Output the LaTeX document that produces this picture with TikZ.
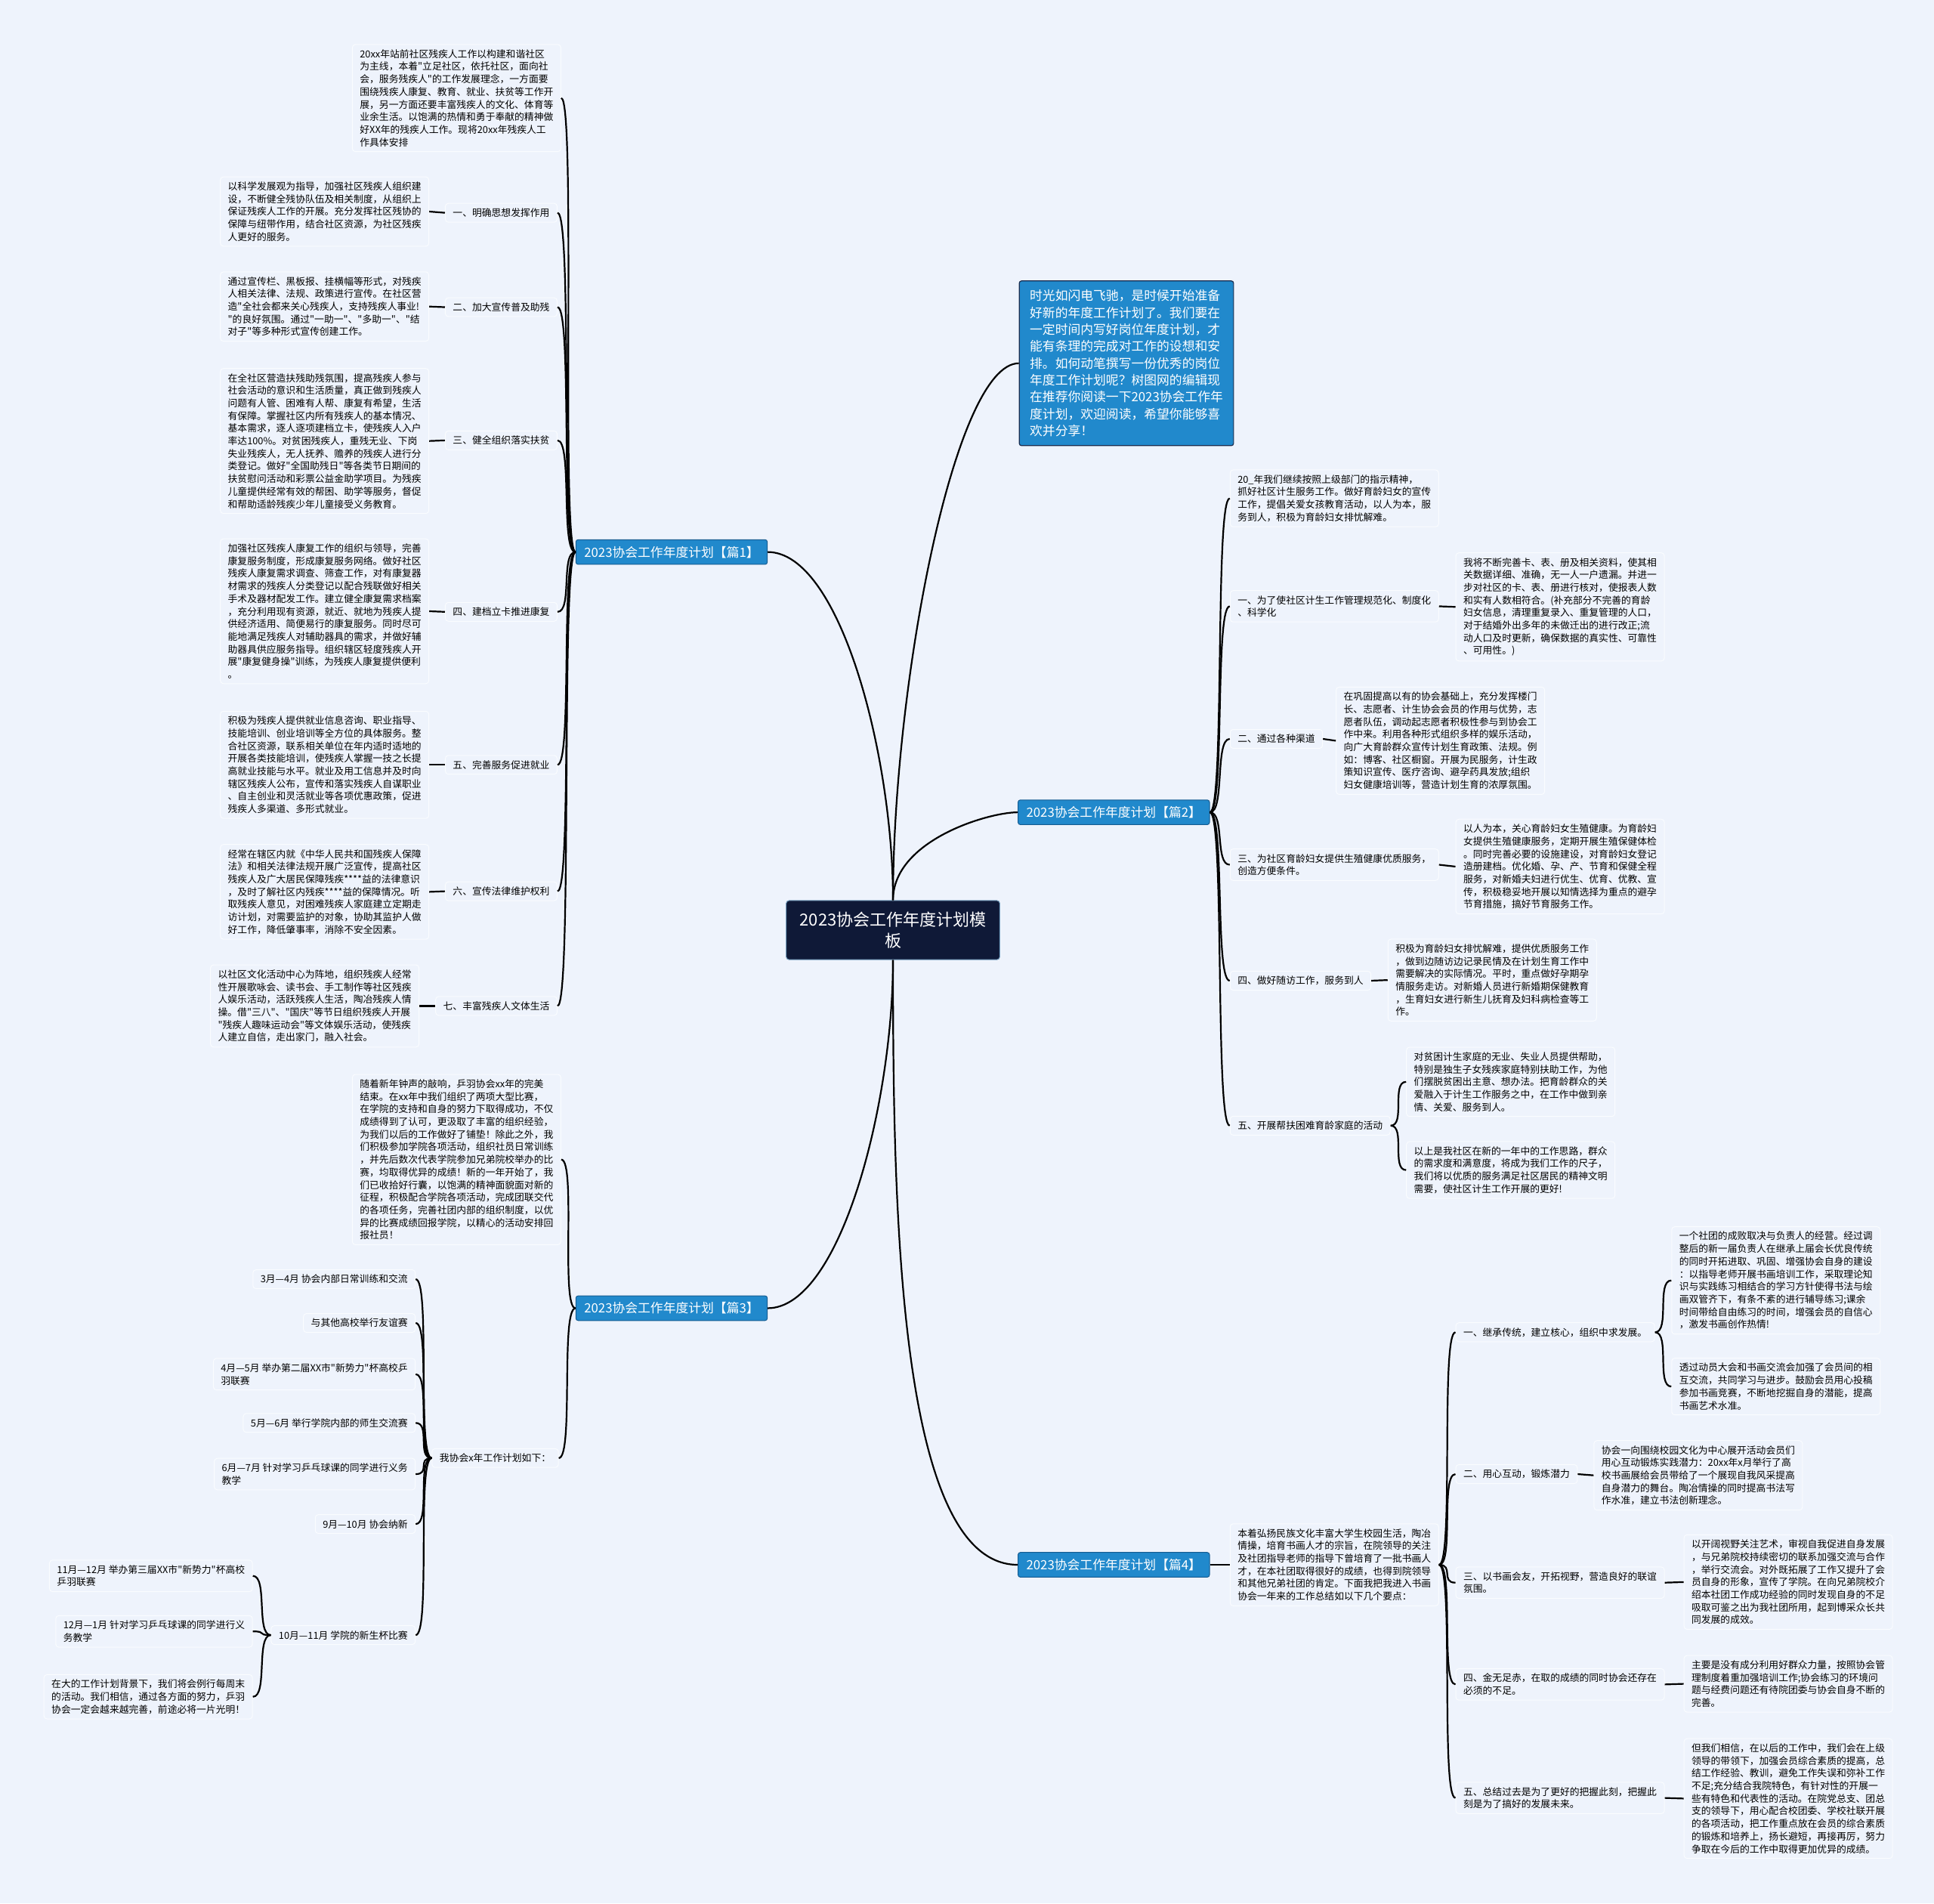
\documentclass[tikz,border=0pt]{standalone}
\usepackage{fontspec}
\newfontfamily\cjkfont{Noto Sans CJK SC}
\definecolor{bgblue}{RGB}{238,243,252}
\definecolor{boxline}{RGB}{250,252,255}
\definecolor{branchblue}{RGB}{33,137,204}
\definecolor{branchline}{RGB}{22,92,145}
\definecolor{introline}{RGB}{25,45,80}
\definecolor{rootfill}{RGB}{15,25,55}
\begin{document}
\begin{tikzpicture}[x=1.6327pt,y=1.6327pt,
    leaf/.style={draw=boxline, fill=bgblue, line width=1pt, rounded corners=4pt,
      inner xsep=10pt, inner ysep=6.5pt, align=left,
      font=\cjkfont\fontsize{12.8pt}{16.7pt}\selectfont},
    branch/.style={draw=branchline, fill=branchblue, text=white, line width=1pt,
      rounded corners=3pt, inner xsep=11pt, inner ysep=8.5pt,
      font=\cjkfont\fontsize{16.8pt}{20pt}\selectfont},
    intro/.style={draw=introline, fill=branchblue, text=white, line width=1.2pt,
      rounded corners=3pt, inner xsep=14pt, inner ysep=12pt, align=left,
      font=\cjkfont\fontsize{16.8pt}{22.3pt}\selectfont},
    root/.style={draw=branchline!60!white, fill=rootfill, text=white, line width=1pt,
      rounded corners=4pt, inner xsep=18pt, inner ysep=15pt, align=center,
      font=\cjkfont\fontsize{22pt}{28pt}\selectfont},
    link/.style={line width=2.2pt},
    toleft/.style={out=180, in=0, out distance=20pt, in distance=20pt},
    toright/.style={out=0, in=180, out distance=20pt, in distance=20pt}]

  % page
  \fill[bgblue] (0,0) rectangle (1568,-1543);
  \useasboundingbox (0,0) rectangle (1568,-1543);

  % centre and main branches
  \node[root] (ctr) at (724,-754) {2023协会工作年度计划模\\板};
  \node[intro, anchor=west] (intro) at (826,-294.5) {时光如闪电飞驰，是时候开始准备\\好新的年度工作计划了。我们要在\\一定时间内写好岗位年度计划，才\\能有条理的完成对工作的设想和安\\排。如何动笔撰写一份优秀的岗位\\年度工作计划呢？树图网的编辑现\\在推荐你阅读一下2023协会工作年\\度计划，欢迎阅读，希望你能够喜\\欢并分享！};
  \node[branch] (p1) at (544.5,-447.5) {2023协会工作年度计划【篇1】};
  \node[branch] (p3) at (544.5,-1060.5) {2023协会工作年度计划【篇3】};
  \node[branch] (p2) at (903,-658.5) {2023协会工作年度计划【篇2】};
  \node[branch] (p4) at (903,-1268.5) {2023协会工作年度计划【篇4】};

  \draw[link] (ctr.north) to[out=90, in=0, in looseness=0.5] (p1.east);
  \draw[link] (ctr.north) to[out=90, in=180, in looseness=0.3] (intro.west);
  \draw[link] (ctr.north) to[out=90, in=180, in looseness=0.5] (p2.west);
  \draw[link] (ctr.south) to[out=-90, in=0, in looseness=0.5] (p3.east);
  \draw[link] (ctr.south) to[out=-90, in=180, in looseness=0.5] (p4.west);

  % 篇1
  \node[leaf, anchor=east] (c0) at (455,-79.5) {20xx年站前社区残疾人工作以构建和谐社区\\为主线，本着"立足社区，依托社区，面向社\\会，服务残疾人"的工作发展理念，一方面要\\围绕残疾人康复、教育、就业、扶贫等工作开\\展，另一方面还要丰富残疾人的文化、体育等\\业余生活。以饱满的热情和勇于奉献的精神做\\好XX年的残疾人工作。现将20xx年残疾人工\\作具体安排};
  \node[leaf, anchor=east] (c1) at (452,-172.5) {一、明确思想发挥作用};
  \node[leaf, anchor=east] (c1a) at (348,-171.5) {以科学发展观为指导，加强社区残疾人组织建\\设，不断健全残协队伍及相关制度，从组织上\\保证残疾人工作的开展。充分发挥社区残协的\\保障与纽带作用，结合社区资源，为社区残疾\\人更好的服务。};
  \node[leaf, anchor=east] (c2) at (452,-249) {二、加大宣传普及助残};
  \node[leaf, anchor=east] (c2a) at (348,-248.5) {通过宣传栏、黑板报、挂横幅等形式，对残疾\\人相关法律、法规、政策进行宣传。在社区营\\造"全社会都来关心残疾人，支持残疾人事业!\\"的良好氛围。通过"一助一"、"多助一"、"结\\对子"等多种形式宣传创建工作。};
  \node[leaf, anchor=east] (c3) at (452,-357) {三、健全组织落实扶贫};
  \node[leaf, anchor=east] (c3a) at (348,-357.5) {在全社区营造扶残助残氛围，提高残疾人参与\\社会活动的意识和生活质量，真正做到残疾人\\问题有人管、困难有人帮、康复有希望，生活\\有保障。掌握社区内所有残疾人的基本情况、\\基本需求，逐人逐项建档立卡，使残疾人入户\\率达100\%。对贫困残疾人，重残无业、下岗\\失业残疾人，无人抚养、赡养的残疾人进行分\\类登记。做好"全国助残日"等各类节日期间的\\扶贫慰问活动和彩票公益金助学项目。为残疾\\儿童提供经常有效的帮困、助学等服务，督促\\和帮助适龄残疾少年儿童接受义务教育。};
  \node[leaf, anchor=east] (c4) at (452,-496) {四、建档立卡推进康复};
  \node[leaf, anchor=east] (c4a) at (348,-495.5) {加强社区残疾人康复工作的组织与领导，完善\\康复服务制度，形成康复服务网络。做好社区\\残疾人康复需求调查、筛查工作，对有康复器\\材需求的残疾人分类登记以配合残联做好相关\\手术及器材配发工作。建立健全康复需求档案\\，充分利用现有资源，就近、就地为残疾人提\\供经济适用、简便易行的康复服务。同时尽可\\能地满足残疾人对辅助器具的需求，并做好辅\\助器具供应服务指导。组织辖区轻度残疾人开\\展"康复健身操"训练，为残疾人康复提供便利\\。};
  \node[leaf, anchor=east] (c5) at (452,-620) {五、完善服务促进就业};
  \node[leaf, anchor=east] (c5a) at (348,-620) {积极为残疾人提供就业信息咨询、职业指导、\\技能培训、创业培训等全方位的具体服务。整\\合社区资源，联系相关单位在年内适时适地的\\开展各类技能培训，使残疾人掌握一技之长提\\高就业技能与水平。就业及用工信息并及时向\\辖区残疾人公布，宣传和落实残疾人自谋职业\\、自主创业和灵活就业等各项优惠政策，促进\\残疾人多渠道、多形式就业。};
  \node[leaf, anchor=east] (c6) at (452,-722.5) {六、宣传法律维护权利};
  \node[leaf, anchor=east] (c6a) at (348,-723) {经常在辖区内就《中华人民共和国残疾人保障\\法》和相关法律法规开展广泛宣传，提高社区\\残疾人及广大居民保障残疾****益的法律意识\\，及时了解社区内残疾****益的保障情况。听\\取残疾人意见，对困难残疾人家庭建立定期走\\访计划，对需要监护的对象，协助其监护人做\\好工作，降低肇事率，消除不安全因素。};
  \node[leaf, anchor=east] (c7) at (452,-815.5) {七、丰富残疾人文体生活};
  \node[leaf, anchor=east] (c7a) at (340,-815.5) {以社区文化活动中心为阵地，组织残疾人经常\\性开展歌咏会、读书会、手工制作等社区残疾\\人娱乐活动，活跃残疾人生活，陶冶残疾人情\\操。借"三八"、"国庆"等节日组织残疾人开展\\"残疾人趣味运动会"等文体娱乐活动，使残疾\\人建立自信，走出家门，融入社会。};

  \draw[link] (p1.west) to[toleft] (c0.east);
  \draw[link] (p1.west) to[toleft] (c1.east);
  \draw[link] (p1.west) to[toleft] (c2.east);
  \draw[link] (p1.west) to[toleft] (c3.east);
  \draw[link] (p1.west) to[toleft] (c4.east);
  \draw[link] (p1.west) to[toleft] (c5.east);
  \draw[link] (p1.west) to[toleft] (c6.east);
  \draw[link] (p1.west) to[toleft] (c7.east);
  \draw[link] (c1.west) -- (c1a.east);
  \draw[link] (c2.west) -- (c2a.east);
  \draw[link] (c3.west) -- (c3a.east);
  \draw[link] (c4.west) -- (c4a.east);
  \draw[link] (c5.west) -- (c5a.east);
  \draw[link] (c6.west) -- (c6a.east);
  \draw[link] (c7.west) -- (c7a.east);

  % 篇3
  \node[leaf, anchor=east] (d0) at (455,-940) {随着新年钟声的敲响，乒羽协会xx年的完美\\结束。在xx年中我们组织了两项大型比赛，\\在学院的支持和自身的努力下取得成功，不仅\\成绩得到了认可，更汲取了丰富的组织经验，\\为我们以后的工作做好了铺垫！除此之外，我\\们积极参加学院各项活动，组织社员日常训练\\，并先后数次代表学院参加兄弟院校举办的比\\赛，均取得优异的成绩！新的一年开始了，我\\们已收拾好行囊，以饱满的精神面貌面对新的\\征程，积极配合学院各项活动，完成团联交代\\的各项任务，完善社团内部的组织制度，以优\\异的比赛成绩回报学院，以精心的活动安排回\\报社员！};
  \node[leaf, anchor=east] (d1) at (453,-1182) {我协会x年工作计划如下：};
  \node[leaf, anchor=east] (e1) at (337,-1037) {3月—4月 协会内部日常训练和交流};
  \node[leaf, anchor=east] (e2) at (337,-1072.5) {与其他高校举行友谊赛};
  \node[leaf, anchor=east] (e3) at (337,-1114) {4月—5月 举办第二届XX市"新势力"杯高校乒\\羽联赛};
  \node[leaf, anchor=east] (e4) at (337,-1153.5) {5月—6月 举行学院内部的师生交流赛};
  \node[leaf, anchor=east] (e5) at (337,-1195) {6月—7月 针对学习乒乓球课的同学进行义务\\教学};
  \node[leaf, anchor=east] (e6) at (337,-1235.5) {9月—10月 协会纳新};
  \node[leaf, anchor=east] (e7) at (337,-1325.5) {10月—11月 学院的新生杯比赛};
  \node[leaf, anchor=east] (f1) at (205,-1277.5) {11月—12月 举办第三届XX市"新势力"杯高校\\乒羽联赛};
  \node[leaf, anchor=east] (f2) at (205,-1322.5) {12月—1月 针对学习乒乓球课的同学进行义\\务教学};
  \node[leaf, anchor=east] (f3) at (205,-1375.5) {在大的工作计划背景下，我们将会例行每周末\\的活动。我们相信，通过各方面的努力，乒羽\\协会一定会越来越完善，前途必将一片光明！};

  \draw[link] (p3.west) to[toleft] (d0.east);
  \draw[link] (p3.west) to[toleft] (d1.east);
  \draw[link] (d1.west) to[toleft] (e1.east);
  \draw[link] (d1.west) to[toleft] (e2.east);
  \draw[link] (d1.west) to[toleft] (e3.east);
  \draw[link] (d1.west) to[toleft] (e4.east);
  \draw[link] (d1.west) to[toleft] (e5.east);
  \draw[link] (d1.west) to[toleft] (e6.east);
  \draw[link] (d1.west) to[toleft] (e7.east);
  \draw[link] (e7.west) to[toleft] (f1.east);
  \draw[link] (e7.west) to[toleft] (f2.east);
  \draw[link] (e7.west) to[toleft] (f3.east);

  % 篇2
  \node[leaf, anchor=west] (g0) at (997,-404) {20\_年我们继续按照上级部门的指示精神，\\抓好社区计生服务工作。做好育龄妇女的宣传\\工作，提倡关爱女孩教育活动，以人为本，服\\务到人，积极为育龄妇女排忧解难。};
  \node[leaf, anchor=west] (g1) at (997,-491.5) {一、为了使社区计生工作管理规范化、制度化\\、科学化};
  \node[leaf, anchor=west] (g1a) at (1180,-492) {我将不断完善卡、表、册及相关资料，使其相\\关数据详细、准确，无一人一户遗漏。并进一\\步对社区的卡、表、册进行核对，使报表人数\\和实有人数相符合。(补充部分不完善的育龄\\妇女信息，清理重复录入、重复管理的人口，\\对于结婚外出多年的未做迁出的进行改正;流\\动人口及时更新，确保数据的真实性、可靠性\\、可用性。)};
  \node[leaf, anchor=west] (g2) at (997,-599) {二、通过各种渠道};
  \node[leaf, anchor=west] (g2a) at (1083,-600.5) {在巩固提高以有的协会基础上，充分发挥楼门\\长、志愿者、计生协会会员的作用与优势，志\\愿者队伍，调动起志愿者积极性参与到协会工\\作中来。利用各种形式组织多样的娱乐活动，\\向广大育龄群众宣传计划生育政策、法规。例\\如：博客、社区橱窗。开展为民服务，计生政\\策知识宣传、医疗咨询、避孕药具发放;组织\\妇女健康培训等，营造计划生育的浓厚氛围。};
  \node[leaf, anchor=west] (g3) at (997,-701) {三、为社区育龄妇女提供生殖健康优质服务，\\创造方便条件。};
  \node[leaf, anchor=west] (g3a) at (1180,-702.5) {以人为本，关心育龄妇女生殖健康。为育龄妇\\女提供生殖健康服务，定期开展生殖保健体检\\。同时完善必要的设施建设，对育龄妇女登记\\造册建档。优化婚、孕、产、节育和保健全程\\服务，对新婚夫妇进行优生、优育、优教、宣\\传，积极稳妥地开展以知情选择为重点的避孕\\节育措施，搞好节育服务工作。};
  \node[leaf, anchor=west] (g4) at (997,-795) {四、做好随访工作，服务到人};
  \node[leaf, anchor=west] (g4a) at (1125,-794.5) {积极为育龄妇女排忧解难，提供优质服务工作\\，做到边随访边记录民情及在计划生育工作中\\需要解决的实际情况。平时，重点做好孕期孕\\情服务走访。对新婚人员进行新婚期保健教育\\，生育妇女进行新生儿抚育及妇科病检查等工\\作。};
  \node[leaf, anchor=west] (g5) at (997,-912.5) {五、开展帮扶困难育龄家庭的活动};
  \node[leaf, anchor=west] (h1) at (1140,-877) {对贫困计生家庭的无业、失业人员提供帮助，\\特别是独生子女残疾家庭特别扶助工作，为他\\们摆脱贫困出主意、想办法。把育龄群众的关\\爱融入于计生工作服务之中，在工作中做到亲\\情、关爱、服务到人。};
  \node[leaf, anchor=west] (h2) at (1140,-948.5) {以上是我社区在新的一年中的工作思路，群众\\的需求度和满意度，将成为我们工作的尺子，\\我们将以优质的服务满足社区居民的精神文明\\需要，使社区计生工作开展的更好!};

  \draw[link] (p2.east) to[toright] (g0.west);
  \draw[link] (p2.east) to[toright] (g1.west);
  \draw[link] (p2.east) to[toright] (g2.west);
  \draw[link] (p2.east) to[toright] (g3.west);
  \draw[link] (p2.east) to[toright] (g4.west);
  \draw[link] (p2.east) to[toright] (g5.west);
  \draw[link] (g1.east) -- (g1a.west);
  \draw[link] (g2.east) -- (g2a.west);
  \draw[link] (g3.east) -- (g3a.west);
  \draw[link] (g4.east) -- (g4a.west);
  \draw[link] (g5.east) to[toright] (h1.west);
  \draw[link] (g5.east) to[toright] (h2.west);

  % 篇4
  \node[leaf, anchor=west] (k0) at (997,-1268.5) {本着弘扬民族文化丰富大学生校园生活，陶冶\\情操，培育书画人才的宗旨，在院领导的关注\\及社团指导老师的指导下曾培育了一批书画人\\才，在本社团取得很好的成绩，也得到院领导\\和其他兄弟社团的肯定。下面我把我进入书画\\协会一年来的工作总结如以下几个要点：};
  \node[leaf, anchor=west] (m1) at (1180,-1080) {一、继承传统，建立核心，组织中求发展。};
  \node[leaf, anchor=west] (n1) at (1355,-1038) {一个社团的成败取决与负责人的经营。经过调\\整后的新一届负责人在继承上届会长优良传统\\的同时开拓进取、巩固、增强协会自身的建设\\：以指导老师开展书画培训工作，采取理论知\\识与实践练习相结合的学习方针使得书法与绘\\画双管齐下，有条不紊的进行辅导练习;课余\\时间带给自由练习的时间，增强会员的自信心\\，激发书画创作热情!};
  \node[leaf, anchor=west] (n2) at (1355,-1124) {透过动员大会和书画交流会加强了会员间的相\\互交流，共同学习与进步。鼓励会员用心投稿\\参加书画竞赛，不断地挖掘自身的潜能，提高\\书画艺术水准。};
  \node[leaf, anchor=west] (m2) at (1180,-1195) {二、用心互动，锻炼潜力};
  \node[leaf, anchor=west] (m2a) at (1292,-1196) {协会一向围绕校园文化为中心展开活动会员们\\用心互动锻炼实践潜力：20xx年x月举行了高\\校书画展给会员带给了一个展现自我风采提高\\自身潜力的舞台。陶冶情操的同时提高书法写\\作水准，建立书法创新理念。};
  \node[leaf, anchor=west] (m3) at (1180,-1283) {三、以书画会友，开拓视野，营造良好的联谊\\氛围。};
  \node[leaf, anchor=west] (m3a) at (1365,-1282.5) {以开阔视野关注艺术，审视自我促进自身发展\\，与兄弟院校持续密切的联系加强交流与合作\\，举行交流会。对外既拓展了工作又提升了会\\员自身的形象，宣传了学院。在向兄弟院校介\\绍本社团工作成功经验的同时发现自身的不足\\吸取可鉴之出为我社团所用，起到博采众长共\\同发展的成效。};
  \node[leaf, anchor=west] (m4) at (1180,-1365.5) {四、金无足赤，在取的成绩的同时协会还存在\\必须的不足。};
  \node[leaf, anchor=west] (m4a) at (1365,-1365) {主要是没有成分利用好群众力量，按照协会管\\理制度着重加强培训工作;协会练习的环境问\\题与经费问题还有待院团委与协会自身不断的\\完善。};
  \node[leaf, anchor=west] (m5) at (1180,-1457.5) {五、总结过去是为了更好的把握此刻，把握此\\刻是为了搞好的发展未来。};
  \node[leaf, anchor=west] (m5a) at (1365,-1458) {但我们相信，在以后的工作中，我们会在上级\\领导的带领下，加强会员综合素质的提高，总\\结工作经验、教训，避免工作失误和弥补工作\\不足;充分结合我院特色，有针对性的开展一\\些有特色和代表性的活动。在院党总支、团总\\支的领导下，用心配合校团委、学校社联开展\\的各项活动，把工作重点放在会员的综合素质\\的锻炼和培养上，扬长避短，再接再厉，努力\\争取在今后的工作中取得更加优异的成绩。};

  \draw[link] (p4.east) -- (k0.west);
  \draw[link] (k0.east) to[toright] (m1.west);
  \draw[link] (k0.east) to[toright] (m2.west);
  \draw[link] (k0.east) to[toright] (m3.west);
  \draw[link] (k0.east) to[toright] (m4.west);
  \draw[link] (k0.east) to[toright] (m5.west);
  \draw[link] (m1.east) to[toright] (n1.west);
  \draw[link] (m1.east) to[toright] (n2.west);
  \draw[link] (m2.east) -- (m2a.west);
  \draw[link] (m3.east) -- (m3a.west);
  \draw[link] (m4.east) -- (m4a.west);
  \draw[link] (m5.east) -- (m5a.west);
\end{tikzpicture}
\end{document}
